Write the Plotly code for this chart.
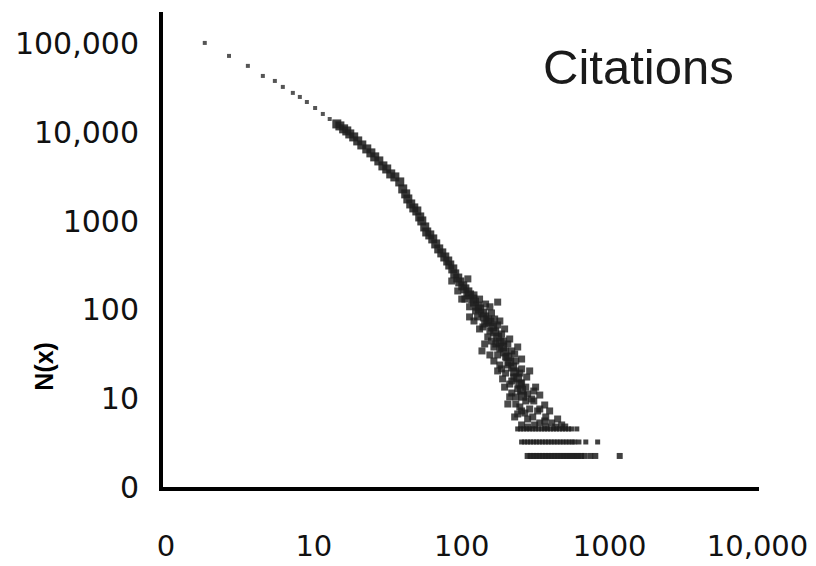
import plotly.graph_objects as go

# ---- data (citations per paper x, number of papers N(x)) ----
top_x = [1.83, 2.67, 3.58, 4.52, 5.45, 6.17, 7.21, 8.04, 8.97, 10.2, 11.5, 12.8]
top_n = [102600, 73200, 56500, 43500, 38200, 32700, 28000, 25200, 22100, 18900, 16200, 14200]

mid_x = [14.3, 15.0, 15.9, 16.7, 17.5, 18.6, 19.8, 21.1, 22.8, 24.3, 25.8, 27.5, 29.3,
         31.1, 33.1, 35.3, 38.1, 39.9, 41.8, 43.2, 45.2, 47.4, 49.7, 52.0, 53.7, 56.2,
         58.0, 60.8, 63.7, 66.7, 69.9, 73.3, 76.8, 80.4, 83.0, 87.0, 89.7, 94.0, 97.0,
         101.6, 105, 110, 113, 118.7, 122, 128, 132, 139, 143, 150, 155, 162, 167,
         175, 181, 189, 195, 205, 211, 221, 228, 239, 247, 254, 258]
mid_n = [12500, 11870, 11000, 10420, 9640, 8920, 8040, 7240, 6530, 5890, 5310, 4780, 4200,
         3880, 3410, 3155, 2770, 2310, 2030, 1780, 1563, 1410, 1303, 1115, 1005, 860,
         755, 699, 630, 553, 486, 438, 394, 355, 320, 289, 254, 228, 206,
         186, 172, 159, 147, 132, 122, 110, 102, 92.0, 83, 76.7, 72.8, 64.0, 56.1,
         49.3, 43.3, 38.0, 33.4, 29.3, 25.8, 22.6, 19.9, 17.0, 14.5, 12.4, 10.6]

cloud_x = [85.6, 110, 94.0, 121, 100, 113, 145, 128, 159, 139, 175, 121, 150, 186, 165,
           205, 175, 218, 143, 181, 232, 198, 254, 218, 275, 189, 239, 211, 279, 232,
           307, 254, 337, 279, 370, 228, 406, 311, 175,
           105, 132, 124, 155, 113, 167, 132, 195, 159, 211, 137, 181, 239, 165, 205,
           254, 175, 225, 288, 195, 254, 316, 218, 297, 337, 247, 364, 267, 393, 302,
           445, 337, 474, 370,
           143, 181, 155, 170, 192, 155, 198, 228, 186, 247, 211, 271, 232, 307, 205,
           271, 326, 239, 288, 364, 254, 432, 279, 497]
cloud_n = [211, 223, 163, 147, 132, 108, 116, 83.0, 92.0, 64.0, 67.4, 74.7, 49.3, 53.3, 38.0,
           41.1, 30.9, 34.3, 41.1, 23.8, 26.4, 19.3, 21.5, 15.7, 17.4, 16.6, 12.8, 10.4, 11.2, 8.64,
           9.35, 7.21, 7.59, 5.85, 6.17, 6.17, 5.28, 5.01, 122,
           132, 132, 96.9, 108, 83.0, 78.7, 60.7, 60.7, 44.4, 46.8, 34.3, 36.1, 38.0, 26.4, 23.8,
           27.8, 20.4, 17.4, 20.4, 13.4, 14.9, 13.4, 11.5, 9.84, 10.9, 8.00, 8.42, 6.84, 7.21, 6.17,
           5.85, 5.28, 5.01, 4.75,
           69.1, 74.7, 57.6, 41.1, 44.4, 30.9, 29.3, 31.7, 21.5, 19.3, 14.5, 13.4, 10.4, 12.1, 8.64,
           9.35, 7.21, 6.67, 7.59, 5.56, 5.01, 4.75, 4.75, 4.75]

band1_x = [239, 250, 262, 275, 288, 302, 316, 331, 347, 363, 380, 398, 417, 437, 458,
           480, 503, 527, 552, 600]
band1_n = [4.52] * len(band1_x)

band2_x = [254, 266, 279, 292, 306, 320, 335, 351, 368, 385, 403, 422, 442, 463, 485,
           508, 532, 557, 580, 620, 690, 830]
band2_n = [3.22] * len(band2_x)

band3_x = [279, 292, 306, 320, 335, 351, 368, 385, 403, 422, 442, 463, 485, 508, 532,
           557, 583, 610, 640, 675, 740, 800, 1170]
band3_n = [2.24] * len(band3_x)

x_tickvals = [1, 10, 100, 1000, 10000]
x_ticktext = ["0", "10", "100", "1000", "10,000"]
y_tickvals = [1, 10, 100, 1000, 10000, 100000]
y_ticktext = ["0", "10", "100", "1000", "10,000", "100,000"]

INK = "#1e1e1e"
FONT = "Liberation Sans, Arial, sans-serif"
TICKFONT = "DejaVu Sans, sans-serif"

fig = go.Figure()
fig.add_trace(go.Scatter(x=top_x, y=top_n, mode="markers",
                         marker=dict(symbol="square", size=4, color="#555555"),
                         showlegend=False))
fig.add_trace(go.Scatter(x=mid_x, y=mid_n, mode="markers",
                         marker=dict(symbol="square", size=9, color=INK, opacity=0.85),
                         showlegend=False))
fig.add_trace(go.Scatter(x=cloud_x, y=cloud_n, mode="markers",
                         marker=dict(symbol="square", size=7, color=INK, opacity=0.8),
                         showlegend=False))
for bx, bn, sz in [(band1_x, band1_n, 5), (band2_x, band2_n, 5), (band3_x, band3_n, 6)]:
    fig.add_trace(go.Scatter(x=bx, y=bn, mode="markers",
                             marker=dict(symbol="square", size=sz, color=INK, opacity=0.85),
                             showlegend=False))

fig.update_layout(
    width=816, height=566,
    margin=dict(l=163, r=57, t=12, b=79),
    paper_bgcolor="white", plot_bgcolor="white",
    font=dict(family=FONT, color="#111111"),
    xaxis=dict(type="log", range=[-0.02, 4.01], tickvals=x_tickvals, ticktext=x_ticktext,
               showgrid=False, zeroline=False, showline=True, linewidth=4, linecolor="black",
               ticks="", automargin=False,
               tickfont=dict(size=29, family=TICKFONT, color="#111111"),
               ticklabelstandoff=30),
    yaxis=dict(type="log", range=[0, 5.36], tickvals=y_tickvals, ticktext=y_ticktext,
               showgrid=False, zeroline=False, showline=True, linewidth=4, linecolor="black",
               ticks="", automargin=False,
               tickfont=dict(size=30, family=TICKFONT, color="#111111"),
               ticklabelstandoff=14),
    annotations=[
        dict(text="Citations", xref="paper", yref="paper", x=0.797, y=0.885,
             xanchor="center", yanchor="middle", showarrow=False,
             font=dict(size=49, family=FONT, color="#1a1a1a")),
        dict(text="<b>N(x)</b>", xref="paper", yref="paper", x=-0.2, y=0.255,
             xanchor="center", yanchor="middle", showarrow=False, textangle=-90,
             font=dict(size=25, family=FONT, color="black")),
    ],
)

fig.write_html("out.html")
